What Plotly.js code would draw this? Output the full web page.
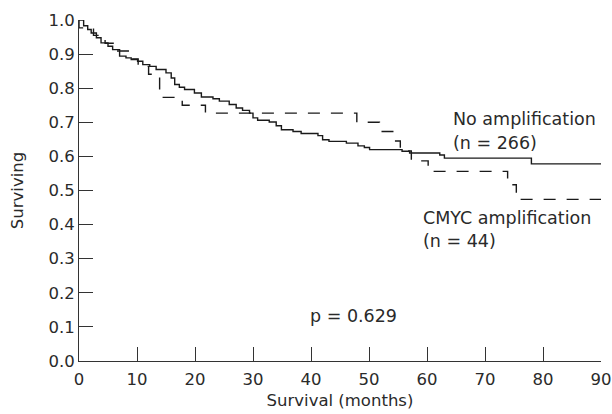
<!DOCTYPE html>
<html>
<head>
<meta charset="utf-8">
<script src="https://cdn.plot.ly/plotly-3.0.1.min.js"></script>
<style>html,body{margin:0;padding:0;background:#fff;}#chart{width:612px;height:414px;}</style>
</head>
<body>
<div id="chart"></div>
<script>
// No amplification (n = 266): step times (months) and survival
const noAmpMonths = [0, 0.8, 1.5, 2.1, 3.0, 3.8, 5.0, 5.8, 7.0, 8.1, 9.0, 10.1, 11.0, 12.2, 13.3, 15.0, 15.9, 16.5, 17.3, 18.2, 19.9, 21.1, 23.1, 24.2, 25.9, 27.1, 28.2, 29.4, 30.0, 30.8, 32.8, 34.0, 34.9, 36.9, 38.3, 41.2, 42.0, 43.1, 46.1, 48.1, 49.2, 50.1, 55.7, 57.0, 62.2, 63.0, 78.0, 90];
const noAmpSurv   = [1.0, 0.983, 0.972, 0.962, 0.948, 0.933, 0.923, 0.913, 0.894, 0.889, 0.884, 0.879, 0.869, 0.864, 0.855, 0.845, 0.830, 0.811, 0.803, 0.796, 0.786, 0.774, 0.769, 0.762, 0.752, 0.742, 0.735, 0.727, 0.713, 0.706, 0.701, 0.690, 0.678, 0.673, 0.667, 0.661, 0.649, 0.644, 0.639, 0.631, 0.626, 0.620, 0.615, 0.610, 0.604, 0.595, 0.578, 0.578];

// CMYC amplification (n = 44)
const cmycMonths = [0, 0, 2.5, 4.5, 6.5, 8.8, 10.2, 12.0, 13.9, 17.8, 21.8, 47.9, 51.8, 54.1, 55.4, 57.3, 60.2, 73.9, 75.4, 90];
const cmycSurv   = [1.0, 0.977, 0.955, 0.932, 0.909, 0.886, 0.864, 0.841, 0.773, 0.750, 0.727, 0.700, 0.673, 0.645, 0.616, 0.587, 0.556, 0.517, 0.474, 0.474];

const yTicks = [0, 0.1, 0.2, 0.3, 0.4, 0.5, 0.6, 0.7, 0.8, 0.9, 1.0];
const yTickLabels = ["0.0", "0.1", "0.2", "0.3", "0.4", "0.5", "0.6", "0.7", "0.8", "0.9", "1.0"];
const xTicks = [0, 10, 20, 30, 40, 50, 60, 70, 80, 90];
const xTickLabels = ["0", "10", "20", "30", "40", "50", "60", "70", "80", "90"];

const FONT = "DejaVu Sans, sans-serif";
const TXT = "#2a2a2a";

const traces = [
  {x: noAmpMonths, y: noAmpSurv, type: "scatter", mode: "lines",
   line: {shape: "hv", color: "#1a1a1a", width: 1.4}, hoverinfo: "skip"},
  {x: cmycMonths, y: cmycSurv, type: "scatter", mode: "lines",
   line: {shape: "hv", color: "#1a1a1a", width: 1.4, dash: "12px,11px"}, hoverinfo: "skip"}
];

const annFont = {family: FONT, size: 17.5, color: TXT};
const layout = {
  width: 612, height: 414,
  margin: {l: 79, r: 11, t: 20, b: 53},
  paper_bgcolor: "#fff", plot_bgcolor: "#fff",
  showlegend: false,
  font: {family: FONT, size: 16, color: TXT},
  xaxis: {
    range: [0, 90], tickvals: xTicks, ticktext: xTickLabels,
    ticks: "inside", ticklen: 14, tickwidth: 1, tickcolor: "#333",
    showline: true, linecolor: "#333", linewidth: 1,
    showgrid: false, zeroline: false, ticklabelstandoff: 3,
    tickfont: {family: FONT, size: 16.5, color: TXT},
    title: {text: "Survival (months)", font: {family: FONT, size: 16.5, color: TXT}, standoff: 6}
  },
  yaxis: {
    range: [0, 1.0], tickvals: yTicks, ticktext: yTickLabels,
    ticks: "inside", ticklen: 14, tickwidth: 1, tickcolor: "#333",
    showline: true, linecolor: "#333", linewidth: 1,
    showgrid: false, zeroline: false,
    tickfont: {family: FONT, size: 16.5, color: TXT},
    title: {text: "Surviving", font: {family: FONT, size: 16.5, color: TXT}, standoff: 20}
  },
  annotations: [
    {x: 64.2, y: 0.711, xref: "x", yref: "y", text: "No amplification", showarrow: false, xanchor: "left", yanchor: "middle", font: annFont},
    {x: 64.2, y: 0.639, xref: "x", yref: "y", text: "(n = 266)", showarrow: false, xanchor: "left", yanchor: "middle", font: annFont},
    {x: 59.0, y: 0.42, xref: "x", yref: "y", text: "CMYC amplification", showarrow: false, xanchor: "left", yanchor: "middle", font: annFont},
    {x: 59.0, y: 0.352, xref: "x", yref: "y", text: "(n = 44)", showarrow: false, xanchor: "left", yanchor: "middle", font: annFont},
    {x: 47.4, y: 0.133, xref: "x", yref: "y", text: "p = 0.629", showarrow: false, xanchor: "center", yanchor: "middle", font: annFont}
  ]
};

Plotly.newPlot("chart", traces, layout, {displayModeBar: false, staticPlot: true});
</script>
</body>
</html>
